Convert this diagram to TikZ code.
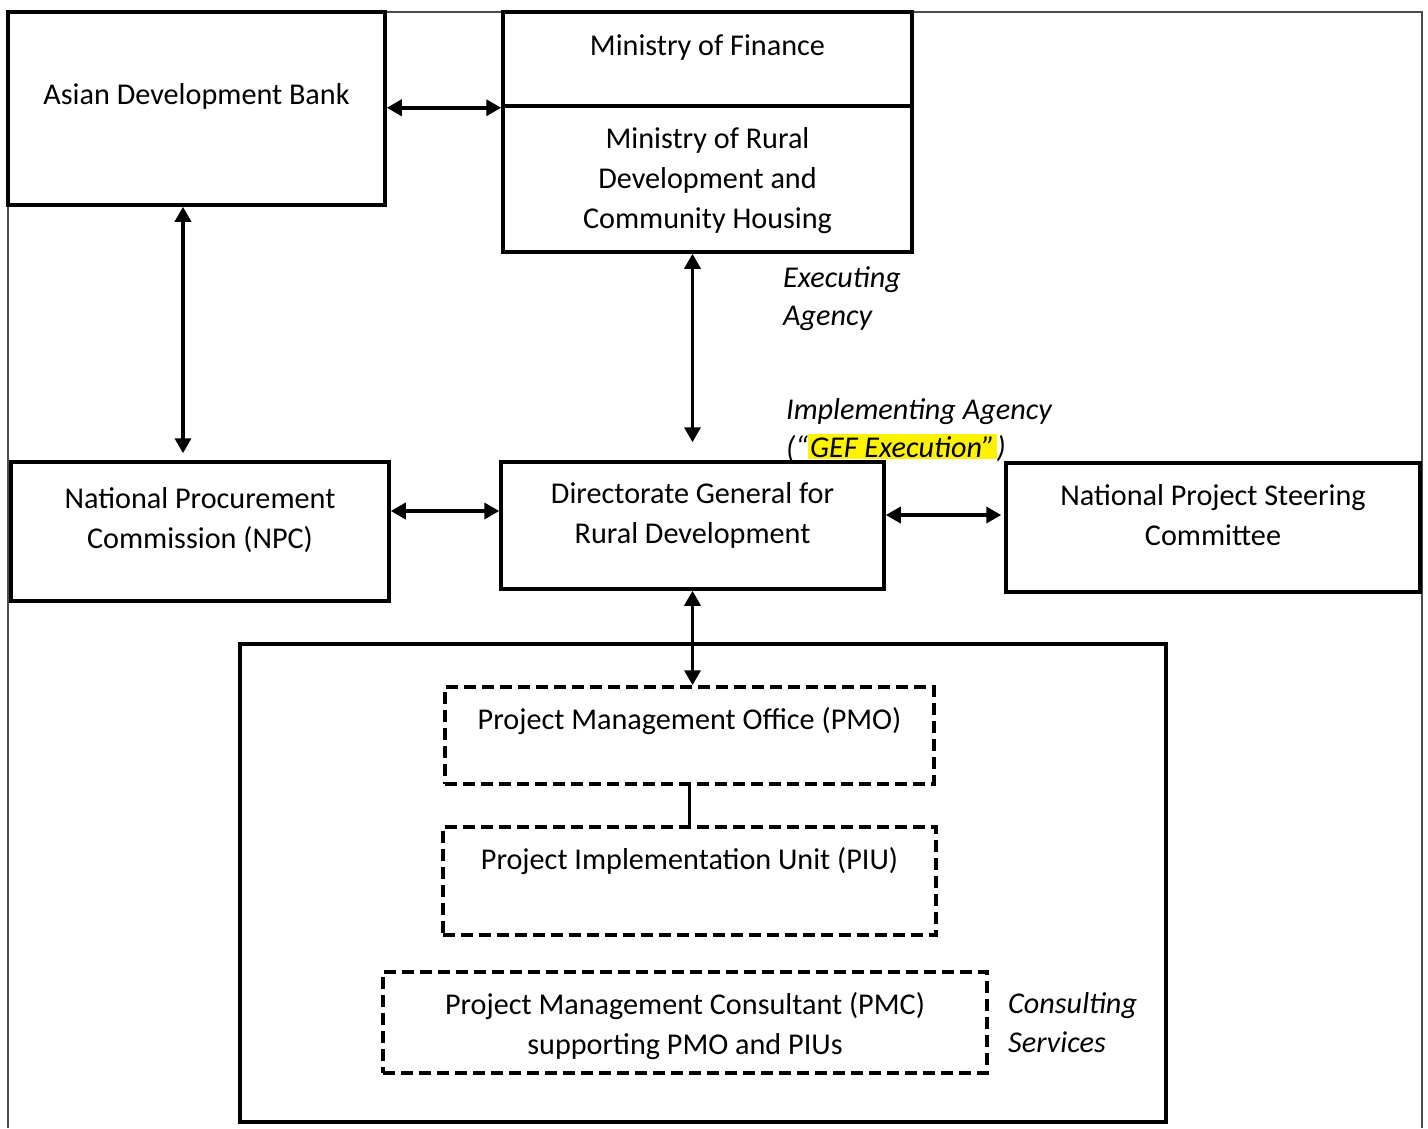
\documentclass[tikz,border=0pt]{standalone}
\usepackage{fontspec}
\setmainfont{Carlito}
\usetikzlibrary{arrows.meta,positioning}
\tikzset{
  box/.style={draw,line width=3.5pt,inner sep=0pt},
  dbox/.style={box,dash pattern=on 12pt off 6pt},
  txt/.style={font=\fontsize{30.2pt}{40pt}\selectfont,align=center,inner sep=0pt,anchor=north},
  note/.style={font=\fontsize{30.2pt}{38pt}\selectfont\itshape,align=left,inner sep=0pt,anchor=north west},
  arr/.style={line width=3.5pt,{Triangle[length=15pt,width=16pt]}-{Triangle[length=15pt,width=16pt]}},
  frame/.style={draw=black!70,line width=1.5pt}
}
\begin{document}
\begin{tikzpicture}[x=1pt,y=-1pt]
\useasboundingbox (0,0) rectangle (1428,1128);
\draw[frame] (8,1128) |- (1422,12) -- (1422,1128);

% top row
\node[box,minimum width=377pt,minimum height=193pt,
      label={[txt,yshift=-73pt]north:Asian Development Bank}] (adb) at (196.5,108.5) {};
\node[box,minimum width=409pt,minimum height=94pt,
      label={[txt,yshift=-24pt]north:Ministry of Finance}] (mof) at (707.5,59) {};
\node[box,minimum width=409pt,minimum height=146pt,
      label={[txt,yshift=-23pt]north:Ministry of Rural\\Development and\\Community Housing}] (mord) at (707.5,179) {};

% middle row
\node[box,minimum width=378pt,minimum height=139pt,
      label={[txt,yshift=-27pt]north:National Procurement\\Commission (NPC)}] (npc) at (200,531.5) {};
\node[box,minimum width=383pt,minimum height=127pt,
      label={[txt,yshift=-22pt]north:Directorate General for\\Rural Development}] (dgrd) at (692.5,525.5) {};
\node[box,minimum width=414pt,minimum height=129pt,
      label={[txt,yshift=-23pt]north:National Project Steering\\Committee}] (npsc) at (1213,527.5) {};

% project units
\node[box,minimum width=926pt,minimum height=478pt] (units) at (703,883) {};
\node[dbox,minimum width=489pt,minimum height=97pt,
      label={[txt,yshift=-22pt]north:Project Management Office (PMO)}] (pmo) at (689.5,735.5) {};
\node[dbox,minimum width=493pt,minimum height=108pt,
      label={[txt,yshift=-22pt]north:Project Implementation Unit (PIU)}] (piu) at (689.5,881) {};
\node[dbox,minimum width=604pt,minimum height=101pt,
      label={[txt,yshift=-22pt]north:Project Management Consultant (PMC)\\supporting PMO and PIUs}] (pmc) at (685,1022.5) {};

% side notes
\node[note] (exec) at (783,266) {Executing\\Agency};
\node[note] (impl) at (786,398) {Implementing Agency\\(“{\fboxsep=2pt\colorbox{yellow}{GEF Execution”}})};
\node[note,font=\fontsize{30.2pt}{39pt}\selectfont\itshape] (cons) at (1008,992) {Consulting\\Services};

% links
\draw[arr] (adb.east |- mof.south) -- (mof.south west);
\draw[arr] ([xshift=-13.5pt]adb.south) -- ([xshift=-17pt,yshift=7pt]npc.north);
\draw[arr] (mord.south -| dgrd.north) -- ([yshift=18pt]dgrd.north);
\draw[arr] ([yshift=20.5pt]npc.east) -- ([yshift=14.5pt]dgrd.west);
\draw[arr,shorten >=3pt] ([yshift=10.5pt]dgrd.east) -- ([yshift=12.5pt]npsc.west);
\draw[arr] (dgrd.south) -- (dgrd.south |- pmo.north);
\draw[line width=3.5pt] (pmo.south) -- (piu.north);
\end{tikzpicture}
\end{document}
